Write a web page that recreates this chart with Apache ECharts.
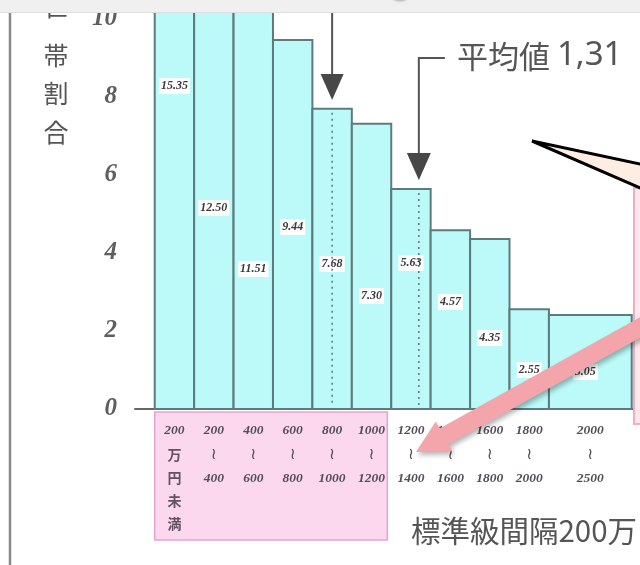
<!DOCTYPE html>
<html><head><meta charset="utf-8">
<script src="https://cdn.jsdelivr.net/npm/echarts@6/dist/echarts.min.js"></script>
<style>html,body{margin:0;padding:0;background:#fff}#c{width:640px;height:565px}</style>
</head><body><div id="c"></div>
<script>
// ---- data ----
const binStart = [0, 200, 400, 600, 800, 1000, 1200, 1400, 1600, 1800, 2000];
const binEnd   = [200, 400, 600, 800, 1000, 1200, 1400, 1600, 1800, 2000, 2420];
const share    = [15.35, 12.50, 11.51, 9.44, 7.68, 7.30, 5.63, 4.57, 4.35, 2.55, 5.05];
const shareText = ['15.35', '12.50', '11.51', '9.44', '7.68', '7.30', '5.63', '4.57', '4.35', '2.55', '5.05'];
const tickTop    = ['200', '200', '400', '600', '800', '1000', '1200', '1400', '1600', '1800', '2000'];
const tickBottom = ['', '400', '600', '800', '1000', '1200', '1400', '1600', '1800', '2000', '2500'];
const firstTickWords = ['万', '円', '未', '満'];
const yTicks = [0, 2, 4, 6, 8, 10];
const medianAt = 900;
const meanAt = 1340;
const meanWord = '平均値';
const meanNum = '1,31';
const xTitle = '標準級間隔200万';
const yTitle = ['世', '帯', '割', '合'];

// ---- style ----
const labelLift = [323, 201, 140, 182, 145, 113, 146, 107, 71, 39, 37]; // px above baseline for value labels
const labelShiftX = [0, 0, 0, 0, 0, 0, 0, 0, 0, 0, -5];
const SERIF = '"Liberation Serif","DejaVu Serif",serif';
const SANS = '"Noto Sans CJK JP","Noto Sans",sans-serif';

const bins = binStart.map((s, i) => [s, binEnd[i], share[i] * 200 / (binEnd[i] - s), i]);
const centers = binStart.map((s, i) => (s + binEnd[i]) / 2);

const chart = echarts.init(document.getElementById('c'), null, {renderer: 'canvas'});

function renderItem(params, api) {
  const s = api.value(0), e = api.value(1), h = api.value(2), i = api.value(3);
  const p0 = api.coord([s, 0]), p1 = api.coord([e, h]);
  const cs = params.coordSys;
  const rect = echarts.graphic.clipRectByRect(
    {x: p0[0], y: p1[1], width: p1[0] - p0[0], height: p0[1] - p1[1]},
    {x: cs.x, y: cs.y - 5, width: cs.width + 5, height: cs.height + 5});
  const children = [];
  if (rect) {
    children.push({type: 'rect', shape: rect,
      style: {fill: '#bcf9f9', stroke: '#5d7b7d', lineWidth: 2}});
  }
  children.push({type: 'text', z2: 10,
    style: {text: shareText[i], x: (p0[0] + p1[0]) / 2 + labelShiftX[i], y: p0[1] - labelLift[i],
      align: 'center', verticalAlign: 'middle', fontFamily: SERIF, fontStyle: 'italic', fontWeight: 'bold',
      fontSize: 12, fill: '#3a3a3a', backgroundColor: '#ffffff', padding: [2, 2]}});
  return {type: 'group', children};
}

function xLabel(v) {
  let idx = centers.findIndex(c => Math.abs(c - v) < 1);
  if (idx < 0) return '';
  if (idx === 0) return '{n|' + tickTop[0] + '}\n' + firstTickWords.map(w => '{k|' + w + '}').join('\n');
  return '{n|' + tickTop[idx] + '}\n{t|≀}\n{n|' + tickBottom[idx] + '}';
}

chart.setOption({
  animation: false,
  backgroundColor: '#ffffff',
  grid: {left: 135, right: 0, top: 13, bottom: 156},
  xAxis: {
    type: 'value', min: -100, max: 2462,
    axisLine: {show: true, onZero: false, lineStyle: {color: '#666', width: 2}},
    axisTick: {show: false}, splitLine: {show: false},
    axisLabel: {
      customValues: centers, margin: 10, formatter: xLabel,
      rich: {
        n: {fontFamily: SERIF, fontStyle: 'italic', fontWeight: 'bold', fontSize: 13.5, color: '#544c58', lineHeight: 24, align: 'center'},
        t: {fontFamily: '"DejaVu Sans",sans-serif', fontSize: 16, color: '#544c58', lineHeight: 24, align: 'center'},
        k: {fontFamily: SANS, fontWeight: 'bold', fontSize: 14, color: '#625262', lineHeight: 23, align: 'center'}
      }
    }
  },
  yAxis: {
    type: 'value', min: 0, max: 10.13,
    axisLine: {show: true, lineStyle: {color: '#666', width: 2}},
    axisTick: {show: true, inside: true, length: 6, customValues: yTicks, lineStyle: {color: '#666', width: 1.5}},
    splitLine: {show: false},
    axisLabel: {customValues: yTicks, margin: 18, fontFamily: SERIF, fontStyle: 'italic', fontWeight: 'bold', fontSize: 25, color: '#5e5e5e'}
  },
  series: [{type: 'custom', renderItem, data: bins, encode: {x: [0, 1], y: 2}, clip: false, z: 2}]
});

// ---- annotations, positioned through the axes ----
const px = v => chart.convertToPixel({gridIndex: 0}, v);
const baseY = px([0, 0])[1];
function binHeightAt(x) {
  const b = bins.find(b => x >= b[0] && x < b[1]);
  return b ? b[2] : 0;
}
const medX = px([medianAt, 0])[0], medTop = px([medianAt, binHeightAt(medianAt)])[1];
const meanX = px([meanAt, 0])[0], meanTop = px([meanAt, binHeightAt(meanAt)])[1];

const g = [];
// dotted lines inside bars
g.push({type: 'line', z: 20, shape: {x1: medX, y1: medTop + 4, x2: medX, y2: baseY - 4},
  style: {stroke: '#5d7b7d', lineWidth: 1.5, lineDash: [2, 4]}});
g.push({type: 'line', z: 20, shape: {x1: meanX, y1: meanTop + 4, x2: meanX, y2: baseY - 4},
  style: {stroke: '#5d7b7d', lineWidth: 1.5, lineDash: [2, 4]}});
// median arrow
g.push({type: 'line', z: 20, shape: {x1: medX, y1: 10, x2: medX, y2: 80}, style: {stroke: '#555', lineWidth: 2}});
g.push({type: 'polygon', z: 20, shape: {points: [[medX - 11.5, 74], [medX + 11.5, 74], [medX, 100]]}, style: {fill: '#474747'}});
// mean arrow
g.push({type: 'polyline', z: 20, shape: {points: [[meanX + 26, 58], [meanX, 58], [meanX, 158]]}, style: {stroke: '#555', lineWidth: 2, fill: null}});
g.push({type: 'polygon', z: 20, shape: {points: [[meanX - 12, 153], [meanX + 12, 153], [meanX, 180]]}, style: {fill: '#474747'}});
g.push({type: 'text', z: 20, style: {text: '{w|' + meanWord + '} {d|' + meanNum + '}', x: 457, y: 56, verticalAlign: 'middle',
  rich: {w: {fontFamily: SANS, fontSize: 31, fill: '#555'}, d: {fontFamily: '"Noto Sans",sans-serif', fontSize: 33, fill: '#555'}},
  fontFamily: SANS, fontSize: 31, fill: '#555'}});
// pink box behind first labels
const pbL = px([0, 0])[0], pbR = px([1180, 0])[0];
g.push({type: 'rect', z: -1, shape: {x: pbL, y: baseY + 3, width: pbR - pbL, height: 128},
  style: {fill: '#fbd8ed', stroke: '#e9a3cf', lineWidth: 1.5}});
// titles
g.push({type: 'text', z: 20, style: {text: xTitle, x: 411, y: 531, verticalAlign: 'middle', fontFamily: SANS, fontSize: 29.5, fill: '#555'}});
const yTitleY = [6, 55, 93, 132];
yTitle.forEach((c, i) => g.push({type: 'text', z: 20, style: {text: c, x: 56, y: yTitleY[i], align: 'center', verticalAlign: 'middle', fontFamily: SANS, fontSize: 25, fill: '#555'}}));
// callout wedge
g.push({type: 'polygon', z: 22, shape: {points: [[532, 141], [645, 165], [645, 190]]}, style: {fill: '#fdeee3'}});
g.push({type: 'polyline', z: 23, shape: {points: [[645, 165], [532, 141], [645, 190]]}, style: {stroke: '#000', lineWidth: 3, fill: null, lineJoin: 'miter'}});
// pink panel at right edge
g.push({type: 'rect', z: 22, shape: {x: 634, y: 188, width: 20, height: 236}, style: {fill: '#fde6ec', stroke: '#eeb0c0', lineWidth: 2}});
// pink arrow
(function () {
  const S = [650, 322], T = [416, 452];
  const dx = T[0] - S[0], dy = T[1] - S[1], L = Math.hypot(dx, dy);
  const u = [dx / L, dy / L], n = [-u[1], u[0]];
  const hl = 32, hw = 17, sw = 9;
  const B = [T[0] - u[0] * hl, T[1] - u[1] * hl];
  const P = (p, k) => [p[0] + n[0] * k, p[1] + n[1] * k];
  g.push({type: 'polygon', z: 24, shape: {points: [P(S, sw), P(B, sw), P(B, hw), T, P(B, -hw), P(B, -sw), P(S, -sw)]},
    style: {fill: '#f4a5ab', shadowBlur: 5, shadowColor: 'rgba(0,0,0,0.3)', shadowOffsetX: 2, shadowOffsetY: 3}});
})();
// left page border and top band
g.push({type: 'line', z: 25, shape: {x1: 10, y1: 12, x2: 10, y2: 565}, style: {stroke: '#8a8a8a', lineWidth: 2.5}});
g.push({type: 'rect', z: 26, shape: {x: 0, y: 0, width: 640, height: 12}, style: {fill: '#f0f0f0'}});
g.push({type: 'line', z: 26, shape: {x1: 0, y1: 12.5, x2: 640, y2: 12.5}, style: {stroke: '#dedede', lineWidth: 1}});
g.push({type: 'ellipse', z: 27, shape: {cx: 400, cy: -4, rx: 58, ry: 13},
  style: {fill: new echarts.graphic.RadialGradient(0.5, 0.2, 0.6, [{offset: 0, color: 'rgba(90,90,90,0.9)'}, {offset: 0.8, color: 'rgba(150,150,150,0.5)'}, {offset: 1, color: 'rgba(240,240,240,0)'}])}});

chart.setOption({graphic: g});
</script>
</body></html>
